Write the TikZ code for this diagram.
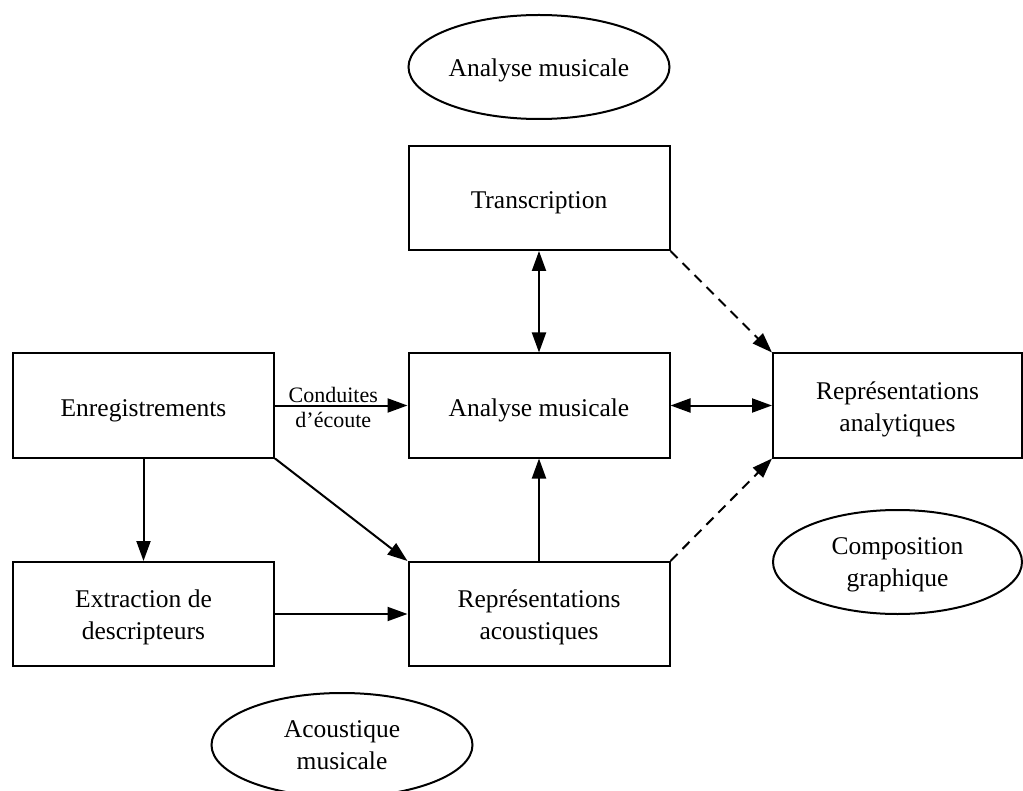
\documentclass[tikz,border=0pt]{standalone}
\usepackage{fontspec}
\setmainfont{Liberation Serif}
\usetikzlibrary{shapes}
\usetikzlibrary{arrows.meta}

\begin{document}
\begin{tikzpicture}[x=0.5pt,y=-0.5pt]
				\tikzstyle{bloc}=[rectangle,draw,line width=1pt,minimum width=130.5pt,minimum height=52pt,inner sep=0pt,align=center,text height=10.5pt,text depth=0pt,font=\fontsize{12.75}{16}\selectfont]
				\tikzstyle{domaine}=[bloc,ellipse,text height=9.5pt]
				\tikzstyle{deux}=[text height=25.5pt]
				\tikzstyle{fleche}=[line width=1pt,-{Triangle[length=10pt,width=7pt]}]
				\tikzstyle{doublefleche}=[line width=1pt,{Triangle[length=10pt,width=7pt]}-{Triangle[length=10pt,width=7pt]}]
				\tikzstyle{pointille}=[fleche,dash pattern=on 5pt off 3.5pt]
				
				\useasboundingbox (0,0) rectangle (1023,791);
				
				\node[domaine] (ellana) at (539,67) {Analyse musicale};
				\node[domaine,deux,text height=24pt,minimum width=124.5pt] (ellcomp) at (897.5,562) {Composition\\graphique};
				\node[domaine,deux,text height=24pt] (ellacou) at (342,745) {Acoustique\\musicale};
				
				\node[bloc] (transcr) at (539,198) {Transcription};
				\node[bloc] (enreg) at (143.5,405.5) {Enregistrements};
				\node[bloc] (analyse) at (539,405.5) {Analyse musicale};
				\node[bloc,deux,minimum width=124.5pt] (repana) at (897.5,405.5) {Représentations\\analytiques};
				\node[bloc,deux] (extract) at (143.5,614) {Extraction de\\descripteurs};
				\node[bloc,deux] (repacou) at (539,614) {Représentations\\acoustiques};
				
				\draw[doublefleche] (transcr) -- (analyse);
				\draw[fleche] (enreg) -- node[pos=0.44,yshift=-1pt,inner sep=0pt,align=center,font=\fontsize{11}{12.5}\selectfont] {Conduites\\d’écoute} (analyse);
				\draw[doublefleche] (analyse) -- (repana);
				\draw[pointille] (transcr.south east) -- (repana.north west);
				\draw[pointille] (repacou.north east) -- (repana.south west);
				\draw[fleche] (enreg.south east) -- (repacou.north west);
				\draw[fleche] (enreg) -- (extract);
				\draw[fleche] (extract) -- (repacou);
				\draw[fleche] (repacou) -- (analyse);
\end{tikzpicture}
\end{document}
